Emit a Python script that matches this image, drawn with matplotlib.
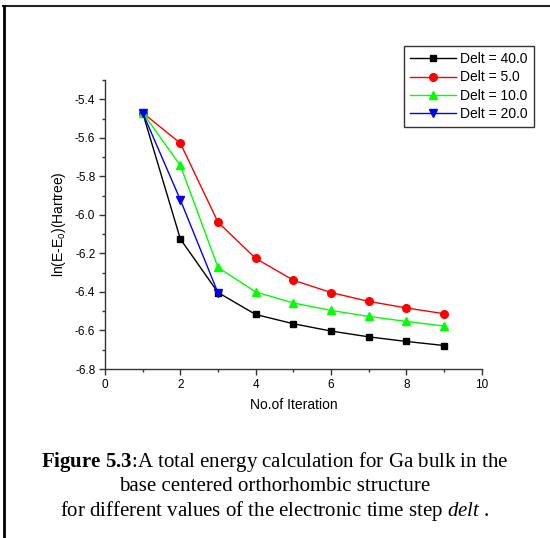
import matplotlib
matplotlib.use("Agg")
import matplotlib.pyplot as plt
from matplotlib.ticker import MultipleLocator
from matplotlib.lines import Line2D

plt.rcParams['font.family'] = ['Liberation Sans', 'DejaVu Sans']
plt.rcParams['mathtext.fontset'] = 'custom'
plt.rcParams['mathtext.rm'] = 'Liberation Sans'
plt.rcParams['mathtext.bf'] = 'Liberation Serif:bold'
plt.rcParams['mathtext.it'] = 'Liberation Serif:italic'

iterations = [1, 2, 3, 4, 5, 6, 7, 8, 9]
delt40 = [-5.47, -6.125, -6.403, -6.517, -6.565, -6.603, -6.633, -6.657, -6.678]
delt5 = [-5.47, -5.628, -6.038, -6.226, -6.339, -6.403, -6.449, -6.483, -6.513]
delt10 = [-5.47, -5.743, -6.273, -6.400, -6.457, -6.496, -6.527, -6.553, -6.577]
iter20 = [1, 2, 3]
delt20 = [-5.47, -5.922, -6.405]

labels = ["Delt = 40.0", "Delt = 5.0", "Delt = 10.0", "Delt = 20.0"]

fig = plt.figure(figsize=(5.5, 5.38), dpi=100)
ax = fig.add_axes([0.1909, 0.3141, 0.6849, 0.5372])

h1, = ax.plot(iterations, delt40, color='black', marker='s', ms=5, lw=1, label=labels[0])
h2, = ax.plot(iterations, delt5, color='red', marker='o', ms=5.5, lw=1, label=labels[1])
h3, = ax.plot(iterations, delt10, color='#00ff00', marker='^', ms=6, lw=1, label=labels[2])
h4, = ax.plot(iter20, delt20, color='blue', marker='v', ms=6, lw=1, label=labels[3])

ax.set_xlim(0, 10)
ax.set_ylim(-6.8, -5.3)
ax.xaxis.set_minor_locator(MultipleLocator(1))
ax.yaxis.set_minor_locator(MultipleLocator(0.1))
ax.set_yticks([-6.8, -6.6, -6.4, -6.2, -6.0, -5.8, -5.6, -5.4])
ax.set_yticklabels(['-6.8', '-6.6', '-6.4', '-6.2', '-6.0', '-5.8', '-5.6', '-5.4'])
ax.set_xticks([0, 2, 4, 6, 8, 10])
ax.spines['top'].set_visible(False)
ax.spines['right'].set_visible(False)
for s in ['left', 'bottom']:
    ax.spines[s].set_linewidth(1.0)
    ax.spines[s].set_color('#333333')
ax.tick_params(which='major', direction='out', length=4, width=1, labelsize=8.5, color='#333333', pad=3)
ax.tick_params(which='minor', direction='out', length=2.5, width=1, color='#333333')

ax.set_xlabel("No.of Iteration", fontsize=10, labelpad=5)
ax.set_ylabel(r"ln(E-E$_\mathrm{o}$)(Hartree)", fontsize=10, labelpad=5)

leg = fig.legend(handles=[h1, h2, h3, h4], loc='upper left',
                 bbox_to_anchor=(404/550, 1-46/538), fontsize=10,
                 frameon=True, fancybox=False, edgecolor='black',
                 handlelength=3.3, borderpad=0.45, labelspacing=0.3,
                 handletextpad=0.3, borderaxespad=0)
leg.get_frame().set_linewidth(1.0)

# Page border lines (top and left)
fig.add_artist(Line2D([3/550, 1], [1-6/538, 1-6/538], color='#222222', lw=1.5, transform=fig.transFigure))
fig.add_artist(Line2D([4/550, 4/550], [0, 1-6/538], color='black', lw=2, transform=fig.transFigure))

cap_kw = dict(ha='center', va='baseline', fontsize=15, family=['Liberation Serif', 'DejaVu Serif'])
fig.text(0.5, 1-467/538, r"$\mathbf{Figure\ 5.3}$:A total energy calculation for Ga bulk in the", **cap_kw)
fig.text(0.5, 1-491/538, "base centered orthorhombic structure", **cap_kw)
fig.text(0.5, 1-516/538, r"for different values of the electronic time step $\mathit{delt}$ .", **cap_kw)

fig.savefig("out.png", dpi=100)
